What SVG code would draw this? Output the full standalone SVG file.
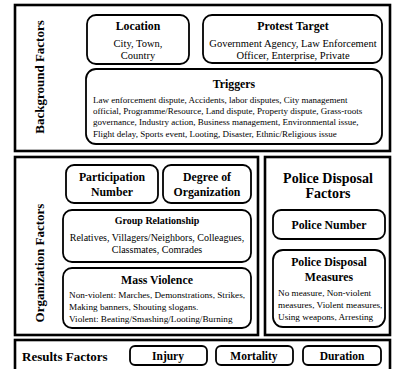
<svg xmlns="http://www.w3.org/2000/svg" width="393" height="369" viewBox="0 0 393 369">
<style>
.frame{fill:none;stroke:#000;stroke-width:2.6}
.box{fill:#fff;stroke:#000;stroke-width:1.8}
text{font-family:"Liberation Serif","Times New Roman",serif;fill:#000}
.t{font-weight:bold;font-size:11.8px;text-anchor:middle}
.big{font-weight:bold;font-size:14px;text-anchor:middle}
.side{font-weight:bold;font-size:13px;text-anchor:middle}
.b{font-size:10.5px;text-anchor:middle}
.s{font-size:9px}
.m{font-size:9.2px}
.r{font-weight:bold;font-size:11.5px;text-anchor:middle}
</style>
<rect width="393" height="369" fill="#fff"/>
<g id="background-factors">
<rect class="frame" x="15" y="5" width="375" height="146"/>
<text class="side" transform="translate(44,77) rotate(-90)">Background Factors</text>
</g>
<g id="location">
<rect class="box" x="87" y="15" width="102" height="49" rx="9"/>
<text class="t" x="138" y="30">Location</text>
<text class="b" x="138" y="47">City, Town,</text>
<text class="b" x="138" y="59">Country</text>
</g>
<g id="protest-target">
<rect class="box" x="203" y="15" width="179" height="48" rx="9"/>
<text class="t" x="293" y="30">Protest Target</text>
<text class="b" x="293" y="47">Government Agency, Law Enforcement</text>
<text class="b" x="293" y="59">Officer, Enterprise, Private</text>
</g>
<g id="triggers">
<rect class="box" x="86" y="69" width="296" height="75" rx="10"/>
<text class="t" x="234" y="88">Triggers</text>
<text class="s" x="93" y="103">Law enforcement dispute, Accidents, labor disputes, City management</text>
<text class="s" x="93" y="114">official, Programme/Resource, Land dispute, Property dispute, Grass-roots</text>
<text class="s" x="93" y="125">governance, Industry action, Business management, Environmental issue,</text>
<text class="s" x="93" y="137">Flight delay, Sports event, Looting, Disaster, Ethnic/Religious issue</text>
</g>
<g id="organization-factors">
<rect class="frame" x="15" y="157" width="243" height="178"/>
<text class="side" transform="translate(44,263) rotate(-90)">Organization Factors</text>
</g>
<g id="participation-number">
<rect class="box" x="66" y="165" width="92" height="38" rx="8"/>
<text class="t" x="112" y="181">Participation</text>
<text class="t" x="112" y="196">Number</text>
</g>
<g id="degree-of-organization">
<rect class="box" x="163" y="165" width="88" height="38" rx="8"/>
<text class="t" x="207" y="181">Degree of</text>
<text class="t" x="207" y="196">Organization</text>
</g>
<g id="group-relationship">
<rect class="box" x="63" y="210" width="188" height="52" rx="9"/>
<text class="t" x="157" y="224" style="font-size:10px">Group Relationship</text>
<text class="b" x="157" y="241" style="font-size:10px">Relatives, Villagers/Neighbors, Colleagues,</text>
<text class="b" x="157" y="253" style="font-size:10px">Classmates, Comrades</text>
</g>
<g id="mass-violence">
<rect class="box" x="63" y="268" width="188" height="60" rx="9"/>
<text class="t" x="157" y="284">Mass Violence</text>
<text class="m" x="69" y="298">Non-violent: Marches, Demonstrations, Strikes,</text>
<text class="m" x="69" y="310">Making banners, Shouting slogans.</text>
<text class="m" x="69" y="322">Violent: Beating/Smashing/Looting/Burning</text>
</g>
<g id="police-disposal-factors">
<rect class="frame" x="265" y="157" width="125" height="178"/>
<text class="big" x="328" y="183">Police Disposal</text>
<text class="big" x="328" y="198">Factors</text>
</g>
<g id="police-number">
<rect class="box" x="273" y="210" width="112" height="29" rx="8"/>
<text class="t" x="329" y="229">Police Number</text>
</g>
<g id="police-disposal-measures">
<rect class="box" x="273" y="250" width="112" height="77" rx="10"/>
<text class="t" x="329" y="266">Police Disposal</text>
<text class="t" x="329" y="281">Measures</text>
<text class="m" x="278" y="296">No measure, Non-violent</text>
<text class="m" x="278" y="308">measures, Violent measures,</text>
<text class="m" x="278" y="320">Using weapons, Arresting</text>
</g>
<g id="results-factors">
<rect class="frame" x="15" y="340" width="375" height="35"/>
<text x="22" y="361" style="font-weight:bold;font-size:13px">Results Factors</text>
</g>
<g id="injury">
<rect class="box" x="130" y="346" width="77" height="19" rx="5"/>
<text class="r" x="168" y="360">Injury</text>
</g>
<g id="mortality">
<rect class="box" x="216" y="346" width="77" height="19" rx="5"/>
<text class="r" x="254" y="360">Mortality</text>
</g>
<g id="duration">
<rect class="box" x="303" y="346" width="78" height="19" rx="5"/>
<text class="r" x="342" y="360">Duration</text>
</g>
<g id="connectors"/>
</svg>
